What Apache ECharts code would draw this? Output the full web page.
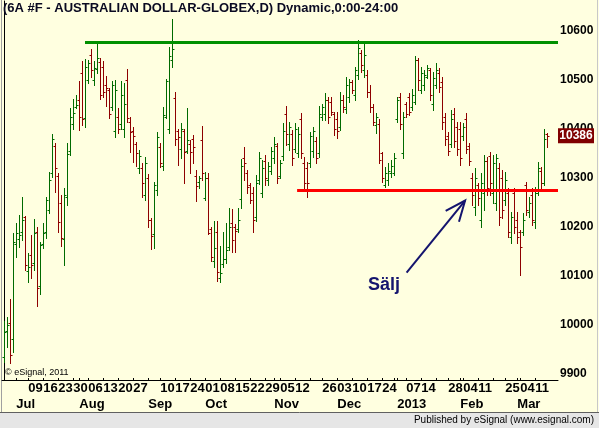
<!DOCTYPE html>
<html><head><meta charset="utf-8">
<script src="https://cdn.jsdelivr.net/npm/echarts@6/dist/echarts.min.js"></script>
<style>html,body{margin:0;padding:0;background:#ffffe0;}#c{width:599px;height:428px;}</style>
</head><body><div id="c"></div>
<script>
// ---- data (6A #F daily OHLC, Jun 26 2012 - Mar 15 2013) ----
var openP = [
9935,9987,10005,9971,10165,10175,10190,10221,10110,10143,
10126,10190,10080,10165,10190,10235,10310,10365,10305,10250,
10175,10262,10355,10410,10445,10459,10514,10422,10500,10550,
10500,10522,10537,10527,10490,10480,10445,10395,10425,10410,
10400,10500,10415,10395,10370,10320,10320,10265,10300,10214,
10185,10275,10364,10325,10425,10400,10540,10463,10395,10360,
10395,10355,10370,10380,10305,10292,10378,10260,10300,10195,
10130,10190,10095,10125,10135,10160,10209,10200,10195,10257,
10340,10310,10285,10270,10220,10295,10270,10335,10295,10315,
10340,10365,10305,10345,10430,10370,10390,10360,10350,10420,
10330,10320,10330,10355,10375,10350,10425,10430,10460,10455,
10430,10420,10405,10460,10440,10465,10495,10470,10510,10555,
10520,10510,10475,10445,10408,10410,10350,10285,10295,10310,
10310,10420,10465,10350,10450,10465,10445,10455,10540,10480,
10490,10506,10520,10450,10490,10515,10495,10425,10385,10370,
10430,10405,10400,10385,10420,10365,10300,10240,10285,10215,
10270,10335,10345,10270,10250,10320,10300,10255,10270,10180,
10270,10215,10190,10190,10285,10230,10265,10210,10270,10315,
10290,10390];
var highP = [
10009,10017,10054,10187,10208,10224,10262,10222,10146,10184,
10216,10199,10170,10208,10262,10313,10389,10372,10311,10265,
10279,10372,10442,10461,10469,10498,10539,10542,10541,10563,
10539,10576,10544,10539,10508,10483,10497,10500,10442,10497,
10493,10522,10424,10405,10374,10357,10331,10343,10309,10218,
10292,10394,10372,10445,10502,10568,10624,10476,10401,10413,
10401,10442,10378,10388,10316,10304,10406,10313,10310,10201,
10212,10212,10161,10190,10208,10238,10236,10206,10238,10338,
10364,10316,10290,10282,10306,10354,10337,10347,10333,10364,
10384,10371,10337,10412,10447,10415,10398,10413,10405,10432,
10343,10333,10394,10405,10384,10446,10452,10473,10466,10466,
10435,10435,10476,10469,10507,10503,10500,10527,10582,10561,
10578,10520,10490,10452,10432,10420,10354,10323,10330,10337,
10350,10466,10473,10435,10456,10473,10481,10548,10544,10527,
10520,10531,10524,10517,10534,10524,10507,10432,10394,10439,
10442,10415,10415,10412,10432,10371,10310,10320,10290,10310,
10347,10343,10354,10347,10349,10330,10316,10312,10279,10231,
10279,10231,10194,10228,10292,10262,10279,10282,10333,10323,
10401,10392];
var lowP = [
9925,9956,9923,9945,10139,10160,10173,10112,10088,10095,
10112,10039,10063,10157,10177,10229,10303,10272,10190,10162,
10122,10245,10347,10401,10442,10398,10408,10404,10493,10506,
10490,10515,10461,10466,10446,10422,10439,10384,10392,10401,
10384,10415,10354,10333,10325,10310,10262,10255,10200,10155,
10157,10265,10323,10316,10422,10391,10527,10367,10327,10340,
10289,10350,10310,10330,10254,10280,10296,10255,10185,10131,
10119,10090,10088,10118,10126,10153,10148,10148,10190,10239,
10296,10269,10249,10190,10213,10288,10262,10286,10286,10309,
10330,10289,10299,10337,10367,10357,10327,10354,10343,10340,
10279,10262,10323,10343,10330,10343,10418,10418,10412,10429,
10388,10381,10398,10435,10432,10456,10473,10459,10503,10517,
10507,10466,10435,10408,10391,10330,10292,10282,10286,10303,
10306,10415,10401,10340,10425,10429,10439,10452,10480,10473,
10480,10504,10459,10439,10483,10476,10401,10367,10347,10364,
10364,10347,10327,10378,10350,10327,10245,10224,10245,10200,
10235,10265,10265,10249,10235,10204,10218,10245,10180,10167,
10187,10167,10102,10184,10224,10221,10204,10197,10265,10276,
10286,10364];
var closeP = [
9985,9999,9939,10169,10187,10183,10214,10122,10118,10122,
10187,10075,10163,10187,10255,10296,10379,10320,10211,10177,
10265,10349,10424,10432,10449,10425,10420,10527,10534,10520,
10524,10545,10470,10475,10483,10430,10490,10480,10400,10470,
10452,10422,10394,10385,10350,10345,10289,10330,10214,10182,
10286,10384,10330,10428,10497,10548,10563,10380,10384,10401,
10354,10378,10354,10364,10284,10300,10310,10300,10187,10138,
10157,10109,10107,10134,10153,10200,10173,10192,10214,10325,
10330,10282,10255,10214,10290,10340,10320,10300,10325,10355,
10370,10300,10330,10395,10390,10405,10340,10400,10390,10350,
10290,10290,10385,10395,10340,10430,10445,10460,10425,10435,
10400,10395,10460,10445,10490,10495,10480,10520,10565,10530,
10550,10475,10445,10415,10425,10337,10300,10310,10315,10325,
10340,10460,10410,10425,10430,10435,10470,10540,10500,10515,
10510,10525,10470,10505,10520,10485,10415,10380,10355,10420,
10375,10360,10340,10405,10360,10335,10265,10300,10260,10290,
10335,10280,10290,10330,10340,10220,10235,10295,10190,10220,
10200,10180,10160,10215,10235,10250,10215,10270,10320,10290,
10380,10386];

// calendar (trading days) and tick labels
var holidays = ['2012-07-04','2012-09-03','2012-11-22','2012-12-25','2013-01-01','2013-01-21','2013-02-18'];
var weekLabelDates = ['2012-07-09','2012-07-16','2012-07-23','2012-07-30','2012-08-06','2012-08-13','2012-08-20','2012-08-27',
  '2012-09-10','2012-09-17','2012-09-24','2012-10-01','2012-10-08','2012-10-15','2012-10-22','2012-10-29','2012-11-05','2012-11-12',
  '2012-11-26','2012-12-03','2012-12-10','2012-12-17','2012-12-24','2013-01-07','2013-01-14','2013-01-28','2013-02-04','2013-02-11',
  '2013-02-25','2013-03-04','2013-03-11'];
var monthLabelDates = ['2012-07-02','2012-08-01','2012-09-04','2012-10-01','2012-11-01','2012-12-03','2013-01-02','2013-02-01','2013-03-01'];
var monthLabelTexts = ['Jul','Aug','Sep','Oct','Nov','Dec','2013','Feb','Mar'];
var yTickValues = [9900,10000,10100,10200,10300,10400,10500,10600];

// annotations
var resistanceLevel = 10577, resistanceFrom = 26.9;
var supportLevel = 10275, supportFrom = 97.6;
var arrowFrom = [134.1, 10107], arrowTo = [153.6, 10254];
var noteAt = [126.6, 10082], noteText = 'Sälj';

// ---- build ----
var dates = [];
(function(){
  var d = new Date(Date.UTC(2012,5,26)), end = Date.UTC(2013,2,15);
  while (d.getTime() <= end) {
    var w = d.getUTCDay(), s = d.toISOString().slice(0,10);
    if (w !== 0 && w !== 6 && holidays.indexOf(s) < 0) dates.push(s);
    d.setUTCDate(d.getUTCDate()+1);
  }
})();
var tickIdx = [];
for (var i = 0; i < dates.length; i++) {
  if (i === 0) { tickIdx.push(i); continue; }
  var a = new Date(dates[i-1]+'T00:00:00Z'), b = new Date(dates[i]+'T00:00:00Z');
  var newWeek = b.getUTCDay() <= a.getUTCDay() || (b - a) > 3*86400000;
  var newMonth = a.getUTCMonth() !== b.getUTCMonth();
  if (newWeek || newMonth) tickIdx.push(i);
}
var dayIdx = weekLabelDates.map(function(s){return dates.indexOf(s);});
var monthIdx = monthLabelDates.map(function(s){return dates.indexOf(s);});
var monthMap = {}; monthIdx.forEach(function(ix,k){monthMap[ix]=monthLabelTexts[k];});
var lastClose = closeP[closeP.length-1];

var XMIN = -0.767, XMAX = 184.567;
var YMIN = 9887.76, YMAX = 10661.22;
var UP = '#006a00', DOWN = '#8e0000', NAVY = '#14146e';
var FONT = '"Liberation Sans", Arial, sans-serif';

var ohlc = dates.map(function(d,i){return [i, openP[i], closeP[i], lowP[i], highP[i]];});

var chart = echarts.init(document.getElementById('c'), null, {renderer:'canvas'});
chart.setOption({
  animation: false,
  backgroundColor: '#ffffe0',
  title: {text: '(6A #F - AUSTRALIAN DOLLAR-GLOBEX,D) Dynamic,0:00-24:00', left: 3, top: 2, padding: 0,
    textStyle: {fontFamily: FONT, fontSize: 13, fontWeight: 'bold', color: '#0a0a22'}},
  grid: {left: 2, top: 1, width: 556, height: 379, containLabel: false},
  xAxis: [{
    type: 'value', min: XMIN, max: XMAX, position: 'bottom', offset: 0,
    splitLine: {show: false},
    axisLine: {show: true, onZero: false, lineStyle: {color: '#000', width: 1}},
    axisTick: {show: true, inside: true, length: 2, customValues: tickIdx, lineStyle: {color: '#000'}},
    axisLabel: {customValues: dayIdx, align: 'left', margin: 2, fontFamily: FONT, fontSize: 13, fontWeight: 'bold', color: '#000',
      formatter: function(v){ return dates[Math.round(v)].slice(8,10); }}
  },{
    type: 'value', min: XMIN, max: XMAX, position: 'bottom', offset: 0,
    splitLine: {show: false}, axisLine: {show: false}, axisTick: {show: false},
    axisLabel: {customValues: monthIdx, align: 'left', margin: 18, fontFamily: FONT, fontSize: 13, fontWeight: 'bold', color: '#000',
      formatter: function(v){ return monthMap[Math.round(v)] || ''; }}
  }],
  yAxis: {
    type: 'value', position: 'right', min: YMIN, max: YMAX,
    splitLine: {show: false},
    axisLine: {show: true, lineStyle: {color: '#000', width: 1}},
    axisTick: {show: false},
    axisLabel: {customValues: yTickValues, margin: 2, fontFamily: FONT, fontSize: 12, fontWeight: 'bold', color: '#000',
      formatter: function(v){ return String(Math.round(v)); }}
  },
  series: [{
    type: 'custom', name: 'OHLC', xAxisIndex: 0, data: ohlc,
    encode: {x: 0, y: [1,2,3,4]},
    renderItem: function(params, api){
      var ix = api.value(0), o = api.value(1), c = api.value(2), l = api.value(3), h = api.value(4);
      var pH = api.coord([ix,h]), pL = api.coord([ix,l]), pO = api.coord([ix,o]), pC = api.coord([ix,c]);
      var X = Math.floor(pH[0]), x = X + 0.5;
      var col = c >= o ? UP : DOWN;
      var yo = Math.round(pO[1]) + 0.5, yc = Math.round(pC[1]) + 0.5;
      return {type: 'group', children: [
        {type: 'line', shape: {x1: x, y1: Math.round(pH[1]), x2: x, y2: Math.round(pL[1]) + 1}, style: {stroke: col, lineWidth: 1}},
        {type: 'line', shape: {x1: X - 1.5, y1: yo, x2: X, y2: yo}, style: {stroke: col, lineWidth: 1}},
        {type: 'line', shape: {x1: X + 1, y1: yc, x2: X + 2.5, y2: yc}, style: {stroke: col, lineWidth: 1}}
      ]};
    },
    markLine: {
      silent: true, symbol: ['none','none'], label: {show: false},
      data: [
        [{coord: [resistanceFrom, resistanceLevel], lineStyle: {color: '#009000', width: 3, type: 'solid'}}, {coord: [XMAX, resistanceLevel]}],
        [{coord: [supportFrom, supportLevel], lineStyle: {color: '#ff0000', width: 3, type: 'solid'}}, {coord: [XMAX, supportLevel]}]
      ]
    },
    markPoint: {
      silent: true,
      data: [{coord: [XMAX, lastClose], value: lastClose, symbol: 'rect', symbolSize: [36, 15], symbolOffset: [18, 0],
        itemStyle: {color: '#800000'},
        label: {show: true, position: 'inside', formatter: String(lastClose), color: '#fff', fontFamily: FONT, fontSize: 12, fontWeight: 'bold'}}]
    }
  },{
    type: 'custom', name: 'note', xAxisIndex: 0, silent: true,
    data: [[arrowFrom[0], arrowFrom[1], arrowTo[0], arrowTo[1], noteAt[0], noteAt[1]]],
    encode: {x: [0,2,4], y: [1,3,5]},
    renderItem: function(params, api){
      var p1 = api.coord([api.value(0), api.value(1)]), p2 = api.coord([api.value(2), api.value(3)]);
      var pt = api.coord([api.value(4), api.value(5)]);
      var ang = Math.atan2(p1[1]-p2[1], p1[0]-p2[0]), L = 22, s = 0.40;
      var b1 = [p2[0] + L*Math.cos(ang + s), p2[1] + L*Math.sin(ang + s)];
      var b2 = [p2[0] + L*Math.cos(ang - s), p2[1] + L*Math.sin(ang - s)];
      var st = {stroke: NAVY, lineWidth: 2, fill: null};
      return {type: 'group', children: [
        {type: 'polyline', shape: {points: [p1, p2]}, style: st},
        {type: 'polyline', shape: {points: [b1, p2, b2]}, style: st},
        {type: 'text', x: pt[0], y: pt[1], style: {text: noteText, fill: NAVY, font: 'bold 18px ' + FONT, align: 'center', verticalAlign: 'middle'}}
      ]};
    }
  }],
  graphic: [
    {type: 'text', left: 5, top: 368, silent: true, style: {text: '© eSignal, 2011', fill: '#000', font: '9px ' + FONT}},
    {type: 'rect', left: 0, top: 412, silent: true, shape: {width: 599, height: 16}, style: {fill: '#e6e6e6'}},
    {type: 'line', silent: true, shape: {x1: 0, y1: 412.5, x2: 599, y2: 412.5}, style: {stroke: '#606060', lineWidth: 1}},
    {type: 'line', silent: true, shape: {x1: 1.5, y1: 0, x2: 1.5, y2: 412}, style: {stroke: '#a0a0a0', lineWidth: 1}},
    {type: 'line', silent: true, shape: {x1: 597.5, y1: 0, x2: 597.5, y2: 412}, style: {stroke: '#c8c8c8', lineWidth: 1}},
    {type: 'text', right: 5, top: 415, silent: true, style: {text: 'Published by eSignal (www.esignal.com)', fill: '#000', font: '10px ' + FONT}}
  ]
});
</script></body></html>
